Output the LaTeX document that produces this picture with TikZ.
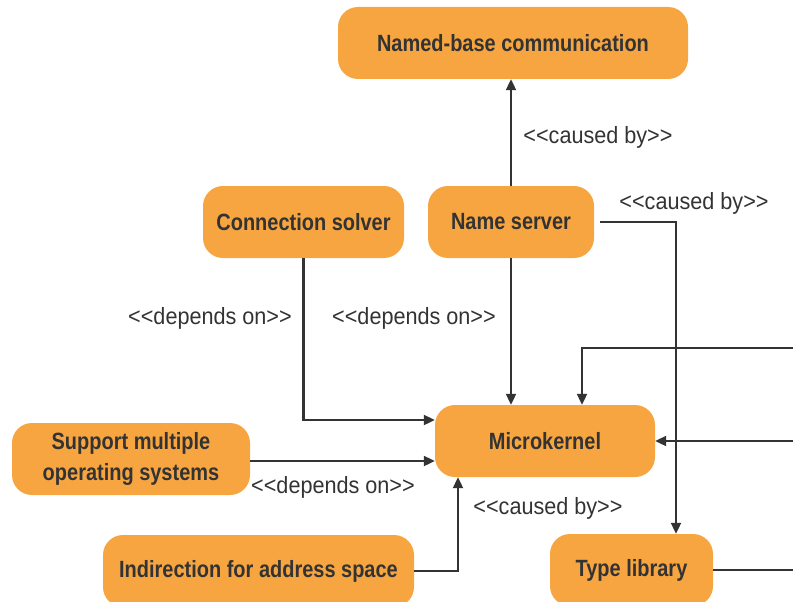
\documentclass[tikz,border=0pt]{standalone}
\usepackage{fontspec}
\setmainfont{Liberation Sans}[FakeStretch=0.85]
\newfontfamily\lblfont{Liberation Sans}[FakeStretch=0.92]
\usetikzlibrary{arrows.meta}
\definecolor{boxorange}{HTML}{F7A540}
\definecolor{ink}{HTML}{333333}
% stereotype brackets, kept apart so they never merge into guillemets
\newcommand\stopen{<\kern0pt<}
\newcommand\stclose{>\kern0pt>}
\begin{document}
\begin{tikzpicture}[x=1pt,y=-1pt,
  box/.style={fill=boxorange, rounded corners=20pt, minimum height=72pt,
    inner sep=0pt, text=ink, align=center,
    font=\fontsize{23.5}{31}\selectfont\bfseries},
  lbl/.style={text=ink, font=\lblfont\fontsize{23.5}{28}\selectfont},
  conn/.style={draw=ink, line width=2.1pt, -{Triangle[length=11pt,width=10pt]}},
  plain/.style={draw=ink, line width=2.1pt}]
\useasboundingbox (0,0) rectangle (793,602);
\clip (0,0) rectangle (793,602);

% components
\node[box, minimum width=350pt] (nbc) at (513,43) {Named-base communication};
\node[box, minimum width=201pt] (cs) at (303.5,222) {Connection solver};
\node[box, minimum width=166pt] (ns) at (511,222) {Name server};
\node[box, minimum width=220pt] (mk) at (545,441) {Microkernel};
\node[box, minimum width=238pt] (smo) at (131,459) {Support multiple\\operating systems};
\node[box, minimum width=311pt] (ind) at (258.5,571) {Indirection for address space};
\node[box, minimum width=163pt] (tl) at (631.5,570) {Type library};

% loose ends leaving to the right
\coordinate (outA) at (800,348);
\coordinate (outB) at (800,441);
\coordinate (outC) at (800,570);

% dependencies
\draw[conn] (ns.north) -- (ns.north |- nbc.south);
\draw[conn] (cs.south) |- (mk.west |- 0,420);
\draw[conn] (ns.south) -- (ns.south |- mk.north);
\draw[conn] (smo.east |- 0,461) -- (mk.west |- 0,461);
\draw[conn] (ind.east) -| (mk.south -| 458,0);
\draw[conn] ([xshift=6pt]ns.east) -| (tl.north -| 676,0);
\draw[plain] (tl.east) -- (outC);
\draw[conn] (outA) -| (mk.north -| 582,0);
\draw[conn] (outB) -- (mk.east);

% stereotypes
\node[lbl] (lcb1) at (598,137) {\stopen caused by\stclose};
\node[lbl] (lcb2) at (694,203) {\stopen caused by\stclose};
\node[lbl] (ldo1) at (210,318) {\stopen depends on\stclose};
\node[lbl] (ldo2) at (414,318) {\stopen depends on\stclose};
\node[lbl] (ldo3) at (333,487) {\stopen depends on\stclose};
\node[lbl] (lcb3) at (548,508) {\stopen caused by\stclose};
\end{tikzpicture}
\end{document}
